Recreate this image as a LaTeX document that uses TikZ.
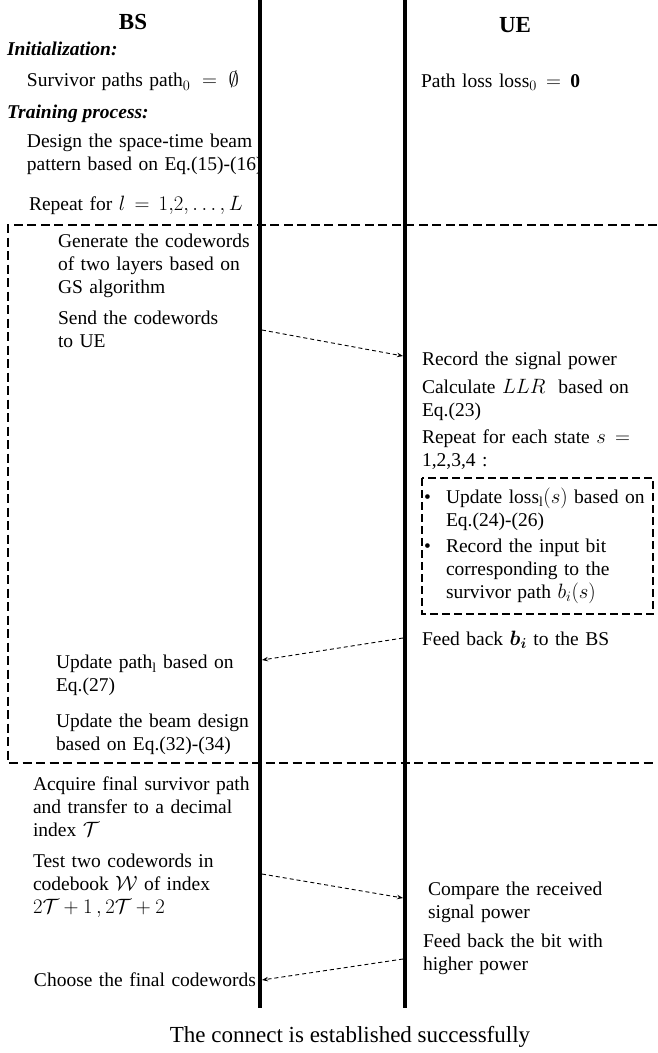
\documentclass[tikz,border=0pt]{standalone}
\usepackage{amsmath}
\usepackage{fontspec}
\setmainfont{Liberation Serif}
\usetikzlibrary{arrows.meta}
\begin{document}
\begin{tikzpicture}[x=1pt,y=-1pt,
  every node/.style={inner sep=0pt,outer sep=0pt,font=\fontsize{19.5}{23}\selectfont},
  txt/.style={anchor=base west,align=left,text width=300pt},
  head/.style={anchor=base,font=\fontsize{23}{26}\selectfont\bfseries},
  sect/.style={anchor=base west,font=\fontsize{19.5}{23}\selectfont\bfseries\itshape},
  lifeline/.style={line width=4pt},
  region/.style={line width=1.2pt,dash pattern=on 9pt off 4.5pt},
  boxdash/.style={line width=1.2pt,dash pattern=on 8pt off 4pt},
  msg/.style={line width=0.9pt,dash pattern=on 4pt off 3pt,-{Stealth[length=6pt,width=4.5pt]}}
]
\useasboundingbox (0,0) rectangle (657,1053);

% region of the repeated loop
\coordinate (rTR) at (657,225);
\coordinate (rTL) at (8,225);
\coordinate (rBL) at (8,763);
\coordinate (rBR) at (657,763);
\draw[region] (rTR) -- (rTL) -- (rBL) -- (rBR);

% inner box at UE
\coordinate (bTL) at (422,478);
\coordinate (bBR) at (653,614);
\draw[boxdash] (bTL) rectangle (bBR);

% lifelines
\coordinate (bsTop) at (260,0);
\coordinate (bsBot) at (260,1008);
\coordinate (ueTop) at (405,0);
\coordinate (ueBot) at (405,1008);
\draw[lifeline] (bsTop) -- (bsBot);
\draw[lifeline] (ueTop) -- (ueBot);

% headings
\node[head] (bs) at (133,29) {BS};
\node[head] (ue) at (515,32) {UE};

% BS side texts
\node[sect] (init) at (7,55) {Initialization:};
\node[txt] (surv) at (27,86) {Survivor paths $\mathrm{path}_0\;=\;\emptyset$};
\node[sect] (train) at (7,118) {Training process:};
\node[txt] (design) at (27,147) {Design the space-time beam\\pattern based on Eq.(15)-(16)};
\node[txt] (repeat) at (29,210) {Repeat for $l\,=\,1{,}2,\dots,L$};
\node[txt] (gen) at (58,247) {Generate the codewords\\of two layers based on\\GS algorithm};
\node[txt] (send) at (58,324) {Send the codewords\\to UE};
\node[txt] (updp) at (56,668) {Update $\mathrm{path}_{\mathrm{l}}$ based on\\Eq.(27)};
\node[txt] (updb) at (56,727) {Update the beam design\\based on Eq.(32)-(34)};
\node[txt] (acq) at (33,790) {Acquire final survivor path\\and transfer to a decimal\\index $\mathcal{T}$};
\node[txt] (test) at (33,867) {Test two codewords in\\codebook $\mathcal{W}$ of index\\$2\mathcal{T}+1\,,2\mathcal{T}+2$};
\node[txt] (choose) at (34,986) {Choose the final codewords};

% UE side texts
\node[txt] (ploss) at (421,87) {Path loss $\mathrm{loss}_0\,=\,\mathbf{0}$};
\node[txt] (rec) at (422,365) {Record the signal power};
\node[txt] (calc) at (422,393) {Calculate $LLR$\ \ based on\\Eq.(23)};
\node[txt] (reps) at (422,443) {Repeat for each state $s\,=$\\1,2,3,4 :};
\node[anchor=base west] (bul1) at (424,503) {\textbullet};
\node[txt] (upl) at (446,503) {Update $\mathrm{loss}_{\mathrm{l}}(s)$ based on\\Eq.(24)-(26)};
\node[anchor=base west] (bul2) at (424,552) {\textbullet};
\node[txt] (recb) at (446,552) {Record the input bit\\corresponding to the\\survivor path $b_i(s)$};
\node[txt] (fb) at (422,645) {Feed back $\boldsymbol{b_i}$ to the BS};
\node[txt] (cmp) at (428,895) {Compare the received\\signal power};
\node[txt] (fbb) at (423,947) {Feed back the bit with\\higher power};

% bottom text
\node[anchor=base,font=\fontsize{23}{26}\selectfont] (done) at (350,1042) {The connect is established successfully};

% messages
\coordinate (m1s) at (262,330);
\coordinate (m1e) at (403,356);
\coordinate (m2s) at (403,638);
\coordinate (m2e) at (262,660);
\coordinate (m3s) at (262,874);
\coordinate (m3e) at (403,898);
\coordinate (m4s) at (403,959);
\coordinate (m4e) at (262,980);
\draw[msg] (m1s) -- (m1e);
\draw[msg] (m2s) -- (m2e);
\draw[msg] (m3s) -- (m3e);
\draw[msg] (m4s) -- (m4e);
\end{tikzpicture}
\end{document}
